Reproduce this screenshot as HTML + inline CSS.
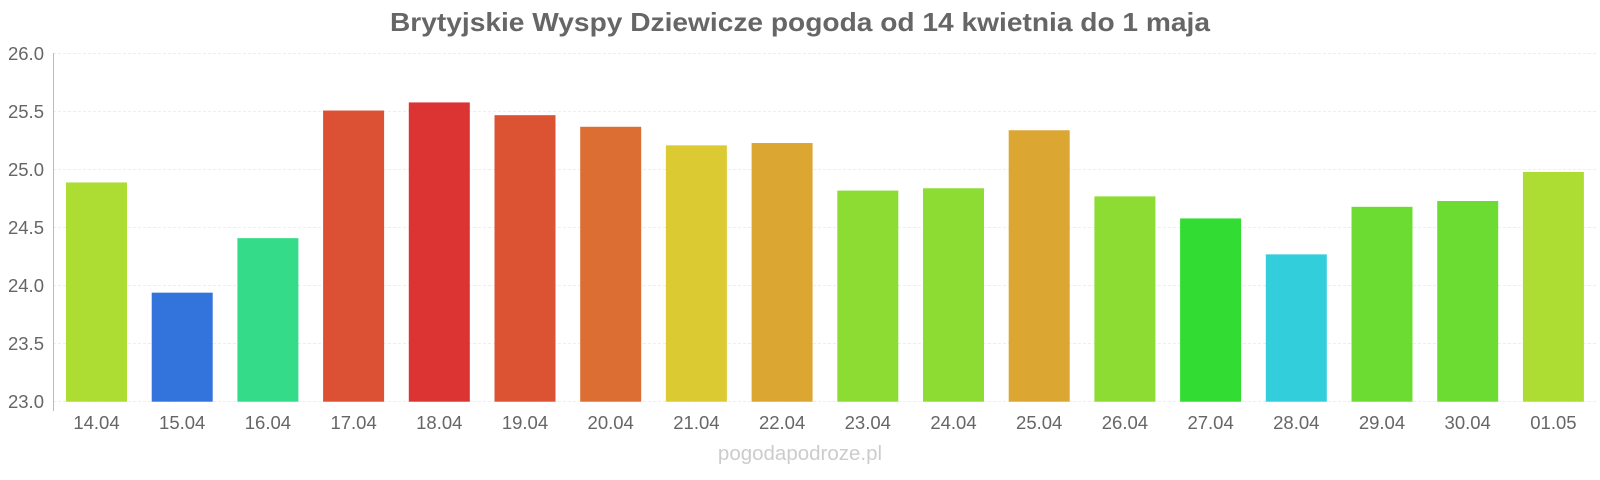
<!DOCTYPE html>
<html><head><meta charset="utf-8"><style>
html,body{margin:0;padding:0;background:#fff;}
svg{display:block;font-family:"Liberation Sans",sans-serif;}
</style></head><body>
<svg width="1600" height="480" xmlns="http://www.w3.org/2000/svg">
<rect width="1600" height="480" fill="#fff"/>
<text x="800" y="31" text-anchor="middle" font-size="26" font-weight="bold" fill="#666" textLength="820" lengthAdjust="spacingAndGlyphs">Brytyjskie Wyspy Dziewicze pogoda od 14 kwietnia do 1 maja</text>
<g stroke="#eee" stroke-width="1" stroke-dasharray="3,2">
<line x1="53" x2="1597" y1="53.5" y2="53.5"/>
<line x1="53" x2="1597" y1="111.5" y2="111.5"/>
<line x1="53" x2="1597" y1="169.5" y2="169.5"/>
<line x1="53" x2="1597" y1="227.5" y2="227.5"/>
<line x1="53" x2="1597" y1="285.5" y2="285.5"/>
<line x1="53" x2="1597" y1="343.5" y2="343.5"/>
<line x1="53" x2="1597" y1="401.5" y2="401.5"/>
</g>
<line x1="53.5" x2="53.5" y1="53" y2="411" stroke="#bbb"/>
<g font-size="18.5" fill="#666" text-anchor="end">
<text x="44" y="60">26.0</text>
<text x="44" y="118">25.5</text>
<text x="44" y="176">25.0</text>
<text x="44" y="234">24.5</text>
<text x="44" y="292">24.0</text>
<text x="44" y="350">23.5</text>
<text x="44" y="408">23.0</text>
</g>
<g id="bars"></g>
<g id="labels" font-size="18.5" fill="#666" text-anchor="middle"></g>
<text x="800" y="460" text-anchor="middle" font-size="20.5" fill="#ccc">pogodapodroze.pl</text>
<script>
var v=[24.89,23.94,24.41,25.51,25.58,25.47,25.37,25.21,25.23,24.82,24.84,25.34,24.77,24.58,24.27,24.68,24.73,24.98];
var c=["#addc32","#3374dc","#34dc8a","#dc5033","#dc3333","#dc5333","#dc6d33","#dcca33","#dca633","#8cdc33","#8cdc33","#dca633","#8cdc33","#33dc33","#33cedc","#6cdc33","#6cdc33","#addc32"];
var d=["14.04","15.04","16.04","17.04","18.04","19.04","20.04","21.04","22.04","23.04","24.04","25.04","26.04","27.04","28.04","29.04","30.04","01.05"];
var ns="http://www.w3.org/2000/svg",b=document.getElementById("bars"),l=document.getElementById("labels");
for(var i=0;i<18;i++){var x=66+i*85.7,y=401.7-(v[i]-23)*116;
var r=document.createElementNS(ns,"rect");r.setAttribute("x",x);r.setAttribute("y",y);r.setAttribute("width",61);r.setAttribute("height",401.7-y);r.setAttribute("fill",c[i]);b.appendChild(r);
var t=document.createElementNS(ns,"text");t.setAttribute("x",x+30.5);t.setAttribute("y",429);t.textContent=d[i];l.appendChild(t);}
</script>
</svg>
</body></html>
